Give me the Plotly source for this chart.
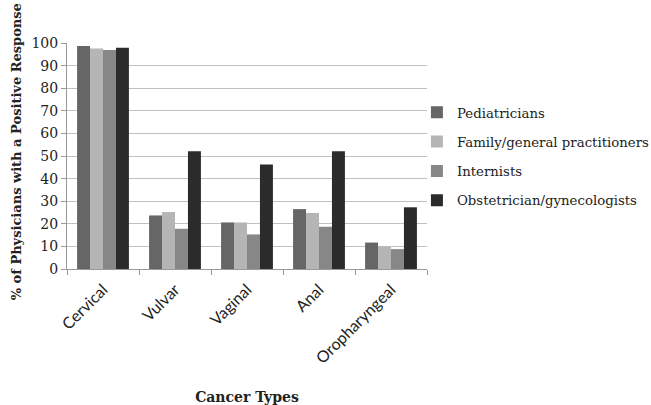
import plotly.graph_objects as go

categories = ["Cervical", "Vulvar", "Vaginal", "Anal", "Oropharyngeal"]
series_names = ["Pediatricians", "Family/general practitioners", "Internists", "Obstetrician/gynecologists"]
pediatricians = [98.7, 23.7, 20.6, 26.5, 11.7]
family = [97.6, 25.2, 20.6, 24.8, 9.9]
internists = [96.9, 17.8, 15.3, 18.7, 8.8]
obgyn = [97.9, 52.1, 46.2, 52.1, 27.3]
y_ticks = [0, 10, 20, 30, 40, 50, 60, 70, 80, 90, 100]
colors = ["#666666", "#b5b5b5", "#878787", "#2b2b2b"]

serif = "DejaVu Serif"
fig = go.Figure()
for i, (name, vals) in enumerate(zip(series_names, [pediatricians, family, internists, obgyn])):
    fig.add_trace(go.Bar(x=categories, y=vals, name=name, marker_color=colors[i],
                         marker_line_width=0, legendgroup=str(i)))

fig.update_layout(
    width=651, height=405,
    margin=dict(l=67, r=224, t=43, b=136, autoexpand=False),
    paper_bgcolor="white", plot_bgcolor="white",
    barmode="group", bargap=0.28, bargroupgap=0,
    font=dict(family=serif, size=14, color="#222"),
    legend=dict(x=0.972, y=0.497, yanchor="middle", xanchor="left",
                traceorder="grouped", tracegroupgap=9, bgcolor="rgba(0,0,0,0)",
                font=dict(family=serif, size=13.3, color="#222"),
                itemwidth=30),
    xaxis=dict(showline=True, linecolor="#999", ticks="outside", tickson="boundaries",
               ticklen=5, tickcolor="#999", tickangle=-45, ticklabelstandoff=4,
               tickfont=dict(family="Lato", size=16, color="#222"),
               title=dict(text="<b>Cancer Types</b>", font=dict(family=serif, size=14), standoff=30)),
    yaxis=dict(range=[0, 100], tickvals=y_ticks, showgrid=True, gridcolor="#c0c0c0",
               showline=True, linecolor="#999", ticks="outside", ticklen=5, tickcolor="#999",
               tickfont=dict(family=serif, size=14, color="#222"), zeroline=False),
    annotations=[dict(text="<b>% of Physicians with a Positive Response</b>", textangle=-90,
                      xref="paper", yref="paper", x=-0.14, y=1.185, xanchor="center", yanchor="top",
                      showarrow=False, font=dict(family=serif, size=13, color="#222"))],
)
fig.write_html("out.html", config={"displayModeBar": False},
               post_script="document.body.style.margin='0';document.body.style.overflow='hidden';")
